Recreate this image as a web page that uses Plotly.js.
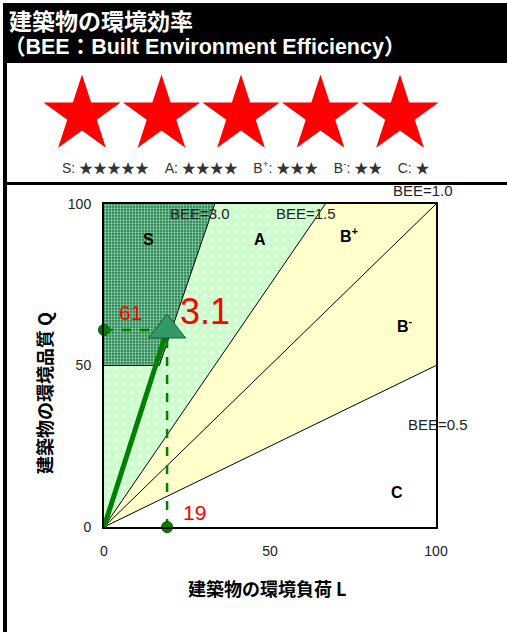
<!DOCTYPE html>
<html>
<head>
<meta charset="utf-8">
<script src="https://cdn.plot.ly/plotly-3.0.1.min.js"></script>
<style>
  html, body { margin: 0; padding: 0; background: #fff; }
  #chart { width: 507px; height: 632px; }
</style>
</head>
<body>
<div id="chart"></div>
<script>
// ランク境界 (BEE = Q / L)
const beeLevels = [3.0, 1.5, 1.0, 0.5];
const beeLabels = ['BEE=3.0', 'BEE=1.5', 'BEE=1.0', 'BEE=0.5'];
const rankNames = ['S', 'A', 'B<sup>+</sup>', 'B<sup>-</sup>', 'C'];
const rankStars = [5, 4, 3, 2, 1];
const qMinS = 50;       // S ランクに必要な Q の下限
const axisMax = 100;
const tickVals = [0, 50, 100];

// 評価結果
const resultL = [19];
const resultQ = [61];
const resultBee = ['3.1'];
const resultStars = 5;

const W = 507, H = 632;
const px = v => v / W;
const py = v => 1 - v / H;
const JP = 'Noto Sans CJK JP, sans-serif';
const SANS = 'Liberation Sans, Noto Sans CJK JP, sans-serif';

// BEE 線上で Q を与えたときの L
const lAt = (bee, q) => q / bee;

const [b3, b15, b1, b05] = beeLevels;

function region(x, y, color, pattern) {
  const t = {
    type: 'scatter', mode: 'lines', x: x, y: y,
    fill: 'toself', fillcolor: color,
    line: { width: 0 }, hoverinfo: 'skip'
  };
  if (pattern) t.fillpattern = pattern;
  return t;
}

function bLine(x, y) {
  return {
    type: 'scatter', mode: 'lines', x: x, y: y,
    line: { color: '#000', width: 1 }, hoverinfo: 'skip'
  };
}

const data = [
  // B- と B+
  region([0, axisMax, axisMax, 0], [0, axisMax * b05, axisMax, 0], '#ffffcc'),
  region([0, lAt(b1, axisMax), lAt(b15, axisMax), 0], [0, axisMax, axisMax, 0], '#ffffcc'),
  // A
  region([0, lAt(b15, axisMax), lAt(b3, axisMax), lAt(b3, qMinS), 0, 0],
         [0, axisMax, axisMax, qMinS, qMinS, 0], '#ccffcc',
         { shape: '.', bgcolor: '#ccffcc', fgcolor: '#ffffff', size: 8, solidity: 0.1 }),
  // S
  region([0, lAt(b3, qMinS), lAt(b3, axisMax), 0, 0],
         [qMinS, qMinS, axisMax, axisMax, qMinS], '#3d9467',
         { shape: '.', bgcolor: '#23804f', fgcolor: '#93d2ac', size: 3, solidity: 0.45 }),
  // 境界線
  bLine([0, lAt(b3, qMinS), lAt(b3, axisMax)], [qMinS, qMinS, axisMax]),
  bLine([0, lAt(b15, axisMax)], [0, axisMax]),
  bLine([0, lAt(b1, axisMax)], [0, axisMax]),
  bLine([0, axisMax], [0, axisMax * b05]),
  // 破線
  {
    type: 'scatter', mode: 'lines', cliponaxis: false,
    x: [0, resultL[0], resultL[0]], y: [resultQ[0], resultQ[0], 0],
    line: { color: '#008000', width: 2.5, dash: 'dash' }, hoverinfo: 'skip'
  },
  {
    type: 'scatter', mode: 'markers', cliponaxis: false,
    x: [0, resultL[0]], y: [resultQ[0], 0],
    marker: { symbol: 'circle', size: 11, color: '#008000', line: { color: '#005a00', width: 1 } },
    hoverinfo: 'skip'
  },
  // 矢印
  {
    type: 'scatter', mode: 'lines', cliponaxis: false,
    x: [0, resultL[0]], y: [0, resultQ[0]],
    line: { color: '#008000', width: 5 }, hoverinfo: 'skip'
  },
  {
    type: 'scatter', mode: 'markers', cliponaxis: false,
    x: resultL, y: resultQ,
    marker: { symbol: 'triangle-up', size: 32, color: '#339966', line: { color: '#1d5e3c', width: 1 } },
    hoverinfo: 'skip'
  },
  // 星
  {
    type: 'scatter', mode: 'markers', xaxis: 'x2', yaxis: 'y2', cliponaxis: false,
    x: Array.from({ length: resultStars }, (_, i) => i + 1),
    y: Array.from({ length: resultStars }, () => 0.5),
    marker: { symbol: 'star', size: 58, color: '#ff0000', line: { width: 0 } },
    hoverinfo: 'skip'
  }
];

const legendText = rankNames.map((r, i) => r + ': ' + '★'.repeat(rankStars[i])).join('\u00a0\u00a0\u00a0\u00a0');

const annotations = [
  { text: '<b>建築物の環境効率</b>', xref: 'paper', yref: 'paper', x: px(7), y: py(20),
    xanchor: 'left', yanchor: 'middle', showarrow: false,
    font: { family: JP, size: 23, color: '#fff' } },
  { text: '<b>（BEE：Built Environment Efficiency）</b>', xref: 'paper', yref: 'paper', x: px(2), y: py(47),
    xanchor: 'left', yanchor: 'middle', showarrow: false,
    font: { family: SANS, size: 21.5, color: '#fff' } },
  { text: legendText, xref: 'paper', yref: 'paper', x: px(246), y: py(167),
    xanchor: 'center', yanchor: 'middle', showarrow: false,
    font: { family: SANS, size: 14, color: '#333' } },
  // 軸タイトル
  { text: '<b>建築物の環境負荷 L</b>', xref: 'paper', yref: 'paper', x: px(267), y: py(588),
    xanchor: 'center', yanchor: 'middle', showarrow: false,
    font: { family: JP, size: 18, color: '#000' } },
  { text: '<b>建築物の環境品質 Q</b>', xref: 'paper', yref: 'paper', x: px(44), y: py(393),
    xanchor: 'center', yanchor: 'middle', showarrow: false, textangle: -90,
    font: { family: JP, size: 18, color: '#000' } },
  // 軸の外に出る BEE=1.0 ラベル
  { text: beeLabels[2], xref: 'paper', yref: 'paper', x: px(391), y: py(190),
    xanchor: 'left', yanchor: 'middle', showarrow: false,
    font: { family: SANS, size: 15, color: '#222' } }
];

// ランク名
const rankPos = [[13.3, 89], [47, 89], [74, 90.4], [90.7, 62.5], [88.3, 10.8]];
rankNames.forEach((r, i) => annotations.push({
  text: '<b>' + r + '</b>', x: rankPos[i][0], y: rankPos[i][1], xref: 'x', yref: 'y',
  showarrow: false, font: { family: SANS, size: 16, color: '#000' }
}));

// BEE ラベル (プロット内)
const beePos = [[19.3, 97.2], [51.2, 97.2], null, [91, 31.6]];
beeLabels.forEach((b, i) => {
  if (!beePos[i]) return;
  annotations.push({
    text: b, x: beePos[i][0], y: beePos[i][1], xref: 'x', yref: 'y', xanchor: 'left',
    showarrow: false, font: { family: SANS, size: 15, color: '#222' }
  });
});

// 値ラベル
annotations.push(
  { text: String(resultQ[0]), x: 8, y: 66.4, xref: 'x', yref: 'y', showarrow: false,
    font: { family: SANS, size: 21, color: '#ff0000' } },
  { text: resultBee[0], x: 30.4, y: 66.7, xref: 'x', yref: 'y', showarrow: false,
    font: { family: SANS, size: 36, color: '#ff0000' } },
  { text: String(resultL[0]), x: 27.4, y: 4.6, xref: 'x', yref: 'y', showarrow: false,
    font: { family: SANS, size: 21, color: '#ff0000' } }
);

const axisCommon = {
  range: [0, axisMax], tickvals: tickVals, showgrid: false, zeroline: false,
  showline: true, mirror: true, linecolor: '#000', linewidth: 2,
  ticks: 'outside', tickcolor: 'rgba(0,0,0,0)',
  tickfont: { family: SANS, size: 14, color: '#222' }, fixedrange: true
};

const layout = {
  width: W, height: H,
  margin: { l: 0, r: 0, t: 0, b: 0 },
  paper_bgcolor: '#fff', plot_bgcolor: '#fff',
  showlegend: false,
  xaxis: Object.assign({}, axisCommon, { domain: [px(104), px(436)], anchor: 'y', ticklen: 10 }),
  yaxis: Object.assign({}, axisCommon, { domain: [py(527), py(204)], anchor: 'x', ticklen: 8 }),
  xaxis2: { domain: [px(42.25), px(439.75)], range: [0.5, 5.5], visible: false, anchor: 'y2', fixedrange: true },
  yaxis2: { domain: [py(135), py(95)], range: [0, 1], visible: false, anchor: 'x2', fixedrange: true },
  shapes: [
    { type: 'rect', xref: 'paper', yref: 'paper', x0: px(3), x1: 1, y0: py(63), y1: py(3),
      fillcolor: '#000', line: { width: 0 } },
    { type: 'rect', xref: 'paper', yref: 'paper', x0: px(3), x1: px(7), y0: 0, y1: py(3),
      fillcolor: '#000', line: { width: 0 } },
    { type: 'line', xref: 'paper', yref: 'paper', x0: px(3), x1: 1, y0: py(183.5), y1: py(183.5),
      line: { color: '#000', width: 3 } }
  ],
  annotations: annotations
};

Plotly.newPlot('chart', data, layout, { displayModeBar: false, staticPlot: true });
</script>
</body>
</html>
